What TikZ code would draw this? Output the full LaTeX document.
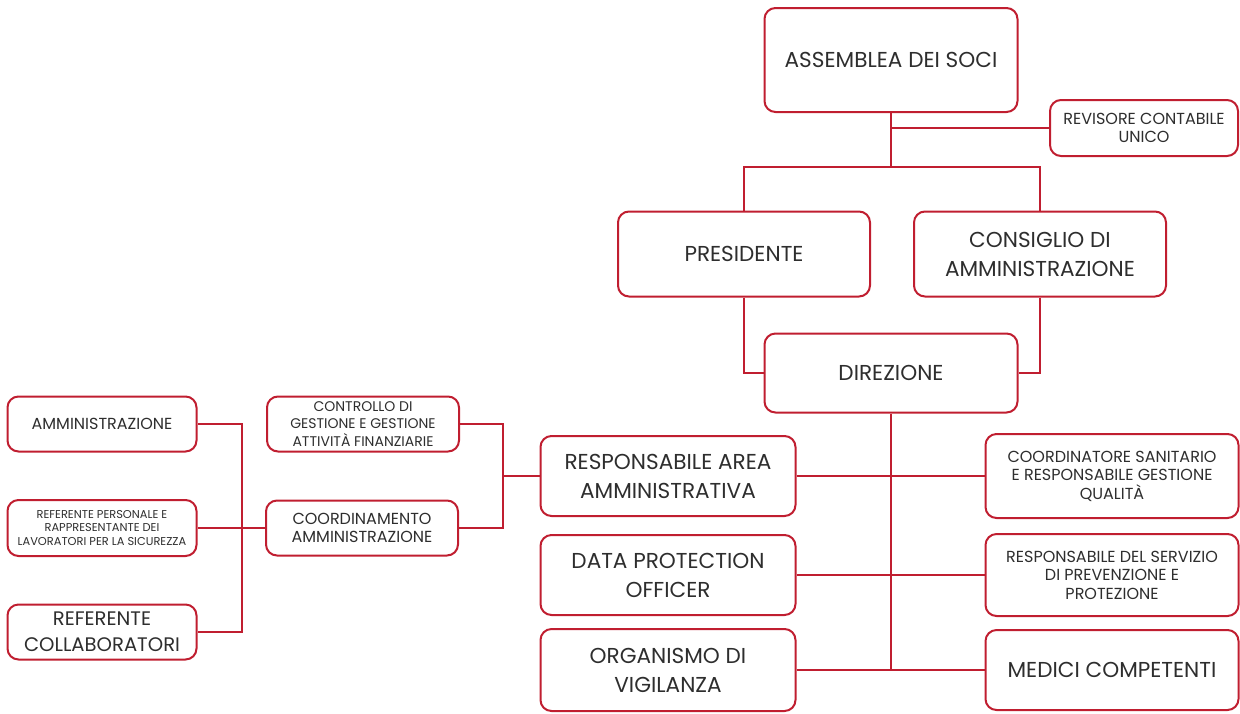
\documentclass[tikz,border=0pt]{standalone}
\usepackage{fontspec}
\setmainfont{Poppins}
\definecolor{orgred}{RGB}{192,30,48}
\tikzset{
  unit/.style={draw=orgred, line width=1pt, rounded corners=5.5pt, fill=white,
    align=center, inner sep=2pt, text=black!82},
  big/.style={unit, font=\fontsize{10.8}{14.5}\selectfont},
  mid/.style={unit, font=\fontsize{8}{9.3}\selectfont},
  small/.style={unit, font=\fontsize{7}{8.6}\selectfont},
  tiny/.style={unit, font=\fontsize{5.7}{6.7}\selectfont},
  link/.style={orgred, line width=1.1pt},
}
\begin{document}
\begin{tikzpicture}[x=0.5pt, y=-0.5pt]
  \useasboundingbox (0,0) rectangle (1240,713);

  % top of the chart
  \node (assemblea) [big, minimum width=126.5pt, minimum height=52pt]
    at (891,60) {ASSEMBLEA DEI SOCI};
  \node (revisore) [mid, minimum width=94pt, minimum height=28pt]
    at (1144,128) {REVISORE CONTABILE\\UNICO};
  \node (presidente) [big, minimum width=126pt, minimum height=42.5pt]
    at (744,254) {PRESIDENTE};
  \node (consiglio) [big, minimum width=126pt, minimum height=42.5pt]
    at (1040,254) {CONSIGLIO DI\\AMMINISTRAZIONE};
  \node (direzione) [big, minimum width=126.5pt, minimum height=39.5pt]
    at (891,373) {DIREZIONE};

  % staff of the direzione
  \node (area amm) [big, minimum width=127.5pt, minimum height=40pt]
    at (668,476) {RESPONSABILE AREA\\AMMINISTRATIVA};
  \node (dpo) [big, minimum width=127.5pt, minimum height=40pt]
    at (668,575) {DATA PROTECTION\\OFFICER};
  \node (odv) [big, minimum width=127.5pt, minimum height=41pt]
    at (668,670) {ORGANISMO DI\\VIGILANZA};
  \node (coord san) [mid, minimum width=126.5pt, minimum height=42pt]
    at (1112,476) {COORDINATORE SANITARIO\\E RESPONSABILE GESTIONE\\QUALITÀ};
  \node (rspp) [mid, minimum width=126.5pt, minimum height=41pt]
    at (1112,575) {RESPONSABILE DEL SERVIZIO\\DI PREVENZIONE E\\PROTEZIONE};
  \node (medici) [big, minimum width=126.5pt, minimum height=40pt]
    at (1112,670) {MEDICI COMPETENTI};

  % administrative area
  \node (controllo) [small, minimum width=96pt, minimum height=27.5pt]
    at (363,424) {CONTROLLO DI\\GESTIONE E GESTIONE\\ATTIVITÀ FINANZIARIE};
  \node (coord amm) [mid, minimum width=96pt, minimum height=27.5pt]
    at (362,528) {COORDINAMENTO\\AMMINISTRAZIONE};
  \node (amministrazione) [mid, minimum width=94.5pt, minimum height=27.5pt]
    at (102,424) {AMMINISTRAZIONE};
  \node (ref personale) [tiny, minimum width=94.5pt, minimum height=28pt]
    at (102,528) {REFERENTE PERSONALE E\\RAPPRESENTANTE DEI\\LAVORATORI PER LA SICUREZZA};
  \node (ref collab) [big, font=\fontsize{9.8}{13}\selectfont,
    minimum width=94.5pt, minimum height=27.5pt]
    at (102,632) {REFERENTE\\COLLABORATORI};

  \coordinate (split) at (891,167);
  \coordinate (trunk end) at (891,670);
  \coordinate (area bus) at (503,476);
  \coordinate (coord bus) at (242,528);

  \draw [link] (assemblea) -- (split);
  \draw [link] (revisore) -- (revisore -| split);
  \draw [link] (split) -| (presidente);
  \draw [link] (split) -| (consiglio);
  \draw [link] (presidente) |- (direzione);
  \draw [link] (consiglio) |- (direzione);
  \draw [link] (direzione) -- (trunk end);
  \draw [link] (area amm) -- (coord san);
  \draw [link] (dpo) -- (rspp);
  \draw [link] (odv) -- (medici);

  \draw [link] (area amm) -- (area bus);
  \draw [link] (area bus) |- (controllo);
  \draw [link] (area bus) |- (coord amm);
  \draw [link] (coord amm) -- (coord bus);
  \draw [link] (coord bus) |- (amministrazione);
  \draw [link] (coord bus) |- (ref personale);
  \draw [link] (coord bus) |- (ref collab);
\end{tikzpicture}
\end{document}
